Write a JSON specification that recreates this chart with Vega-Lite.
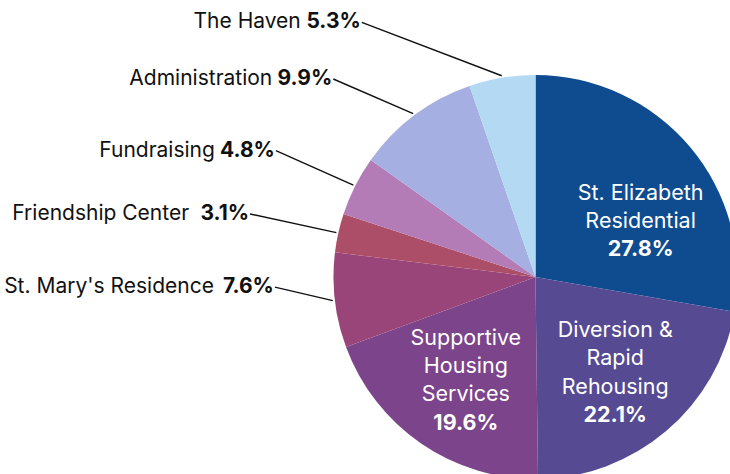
{
  "$schema": "https://vega.github.io/schema/vega-lite/v6.json",
  "width": 730,
  "height": 474,
  "autosize": {"type": "none"},
  "padding": 0,
  "background": "white",
  "config": {"view": {"stroke": null}, "text": {"font": "Inter"}},
  "data": {
    "values": [
      {"order": 1, "name": "St. Elizabeth Residential", "share": 27.8, "lines": "St. Elizabeth\nResidential"},
      {"order": 2, "name": "Diversion & Rapid Rehousing", "share": 22.1, "lines": "Diversion &\nRapid\nRehousing"},
      {"order": 3, "name": "Supportive Housing Services", "share": 19.6, "lines": "Supportive\nHousing\nServices"},
      {"order": 4, "name": "St. Mary's Residence", "share": 7.6, "lx": -1.29, "ly": -0.05},
      {"order": 5, "name": "Friendship Center", "share": 3.1, "lx": -1.413, "ly": 0.312},
      {"order": 6, "name": "Fundraising", "share": 4.8, "lx": -1.285, "ly": 0.626},
      {"order": 7, "name": "Administration", "share": 9.9, "lx": -1.001, "ly": 0.98},
      {"order": 8, "name": "The Haven", "share": 5.3, "lx": -0.86, "ly": 1.26}
    ]
  },
  "transform": [
    {"calculate": "format(datum.share, '.1f') + '%'", "as": "pct"},
    {"calculate": "isValid(datum.lines) && indexof(datum.lines, '\\n') == lastindexof(datum.lines, '\\n')", "as": "two"},
    {"calculate": "isValid(datum.lines) && !datum.two", "as": "three"}
  ],
  "layer": [
    {
      "mark": {"type": "arc", "outerRadius": 202, "stroke": null},
      "encoding": {
        "x": {"datum": 0, "type": "quantitative", "scale": {"domain": [-2.651, 0.963], "nice": false, "zero": false}, "axis": null},
        "y": {"datum": 0, "type": "quantitative", "scale": {"domain": [-0.975, 1.371], "nice": false, "zero": false}, "axis": null},
        "theta": {"field": "share", "type": "quantitative", "stack": true},
        "order": {"field": "order", "type": "quantitative"},
        "color": {
          "field": "name", "type": "nominal", "legend": null,
          "scale": {
            "domain": ["St. Elizabeth Residential", "Diversion & Rapid Rehousing", "Supportive Housing Services", "St. Mary's Residence", "Friendship Center", "Fundraising", "Administration", "The Haven"],
            "range": ["#0e4c8f", "#564a93", "#7c448b", "#9a4579", "#ad4e69", "#b47cb6", "#a6afe1", "#b3d9f3"]
          }
        }
      }
    },
    {
      "transform": [
        {"joinaggregate": [{"op": "sum", "field": "share", "as": "total"}]},
        {"window": [{"op": "sum", "field": "share", "as": "cum"}], "sort": [{"field": "order"}], "frame": [null, 0]},
        {"calculate": "2 * PI * (datum.cum - datum.share / 2) / datum.total", "as": "ang"},
        {"calculate": "1.01 * sin(datum.ang)", "as": "ex"},
        {"calculate": "1.01 * cos(datum.ang)", "as": "ey"},
        {"filter": "isValid(datum.lx)"}
      ],
      "mark": {"type": "rule", "color": "#111111", "strokeWidth": 1.4},
      "encoding": {
        "x": {"field": "lx", "type": "quantitative"},
        "y": {"field": "ly", "type": "quantitative"},
        "x2": {"field": "ex"},
        "y2": {"field": "ey"}
      }
    },
    {
      "transform": [{"filter": "isValid(datum.lx)"}],
      "mark": {"type": "text", "align": "right", "baseline": "middle", "dx": -61, "fontSize": 21, "color": "#111111"},
      "encoding": {
        "x": {"field": "lx", "type": "quantitative"},
        "y": {"field": "ly", "type": "quantitative"},
        "text": {"field": "name"}
      }
    },
    {
      "transform": [{"filter": "isValid(datum.lx)"}],
      "mark": {"type": "text", "align": "right", "baseline": "middle", "dx": -1, "fontSize": 21, "fontWeight": "bold", "color": "#111111"},
      "encoding": {
        "x": {"field": "lx", "type": "quantitative"},
        "y": {"field": "ly", "type": "quantitative"},
        "text": {"field": "pct"}
      }
    },
    {
      "transform": [{"calculate": "datum.two ? datum.lines : ''", "as": "t"}],
      "mark": {"type": "text", "radius": 123, "dx": 11, "dy": -4, "align": "center", "baseline": "middle", "fontSize": 21.5, "lineHeight": 28.3, "lineBreak": "\n", "color": "white"},
      "encoding": {
        "x": {"datum": 0, "type": "quantitative"},
        "y": {"datum": 0, "type": "quantitative"},
        "theta": {"field": "share", "type": "quantitative", "stack": true},
        "order": {"field": "order", "type": "quantitative"},
        "text": {"field": "t"}
      }
    },
    {
      "transform": [{"calculate": "datum.two ? datum.pct : ''", "as": "t"}],
      "mark": {"type": "text", "radius": 123, "dx": 11, "dy": 52.6, "align": "center", "baseline": "middle", "fontSize": 21.5, "fontWeight": "bold", "color": "white"},
      "encoding": {
        "x": {"datum": 0, "type": "quantitative"},
        "y": {"datum": 0, "type": "quantitative"},
        "theta": {"field": "share", "type": "quantitative", "stack": true},
        "order": {"field": "order", "type": "quantitative"},
        "text": {"field": "t"}
      }
    },
    {
      "transform": [{"calculate": "datum.three ? datum.lines : ''", "as": "t"}],
      "mark": {"type": "text", "radius": 123, "dy": -39.5, "align": "center", "baseline": "middle", "fontSize": 21.5, "lineHeight": 28.3, "lineBreak": "\n", "color": "white"},
      "encoding": {
        "x": {"datum": 0, "type": "quantitative"},
        "y": {"datum": 0, "type": "quantitative"},
        "theta": {"field": "share", "type": "quantitative", "stack": true},
        "order": {"field": "order", "type": "quantitative"},
        "text": {"field": "t"}
      }
    },
    {
      "transform": [{"calculate": "datum.three ? datum.pct : ''", "as": "t"}],
      "mark": {"type": "text", "radius": 123, "dy": 45.4, "align": "center", "baseline": "middle", "fontSize": 21.5, "fontWeight": "bold", "color": "white"},
      "encoding": {
        "x": {"datum": 0, "type": "quantitative"},
        "y": {"datum": 0, "type": "quantitative"},
        "theta": {"field": "share", "type": "quantitative", "stack": true},
        "order": {"field": "order", "type": "quantitative"},
        "text": {"field": "t"}
      }
    }
  ]
}
